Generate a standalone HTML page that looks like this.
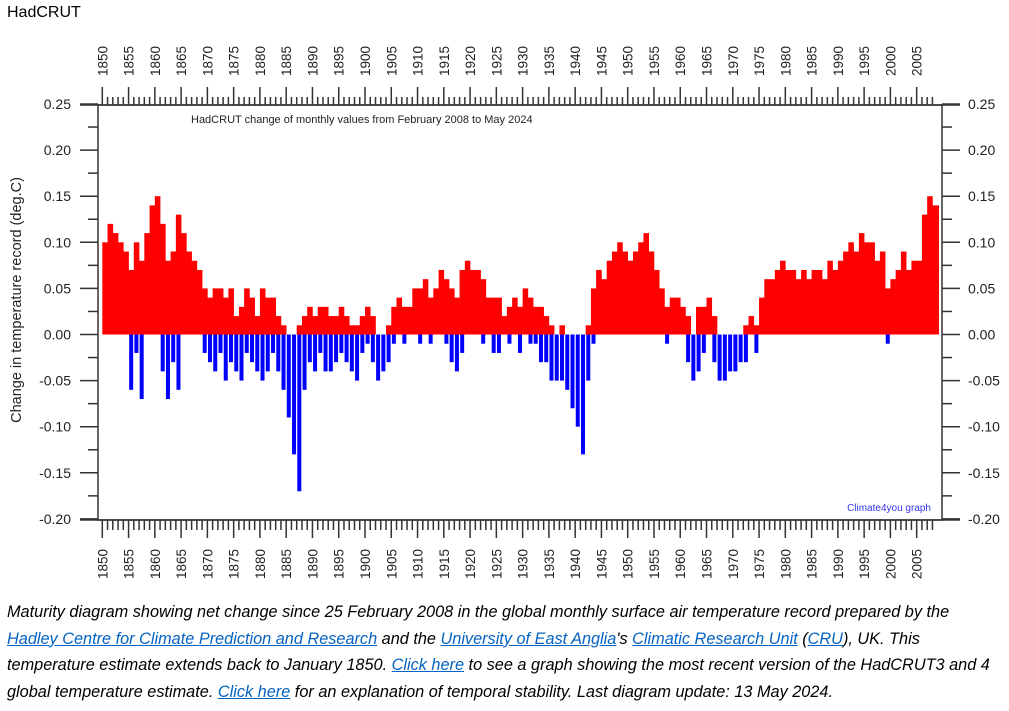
<!DOCTYPE html>
<html><head><meta charset="utf-8"><style>
body{margin:0;background:#fff;width:1009px;height:711px;overflow:hidden;font-family:"Liberation Sans",Arial,sans-serif}
#hdr{position:absolute;left:7px;top:4px;font-size:16px;color:#000}
#cap{position:absolute;left:7px;top:599px;width:1002px;font-style:italic;font-size:16.3px;line-height:26.5px;color:#000;white-space:nowrap}
#cap a{color:#0563c1;text-decoration:underline}
svg{position:absolute;left:0;top:0}
</style></head><body>
<div id="hdr">HadCRUT</div>
<svg id="chart" width="1009" height="600"></svg>
<div id="cap">Maturity diagram showing net change since 25 February 2008 in the global monthly surface air temperature record prepared by the<br><a>Hadley Centre for Climate Prediction and Research</a> and the <a>University of East Anglia</a>'s <a>Climatic Research Unit</a> (<a>CRU</a>), UK. This<br>temperature estimate extends back to January 1850. <a>Click here</a> to see a graph showing the most recent version of the HadCRUT3 and 4<br>global temperature estimate. <a>Click here</a> for an explanation of temporal stability. Last diagram update: 13 May 2024.</div>
<script>
const startYear = 1850;
const posValues = [0.10,0.12,0.11,0.10,0.09,0.07,0.10,0.08,0.11,0.14,0.15,0.12,0.08,0.09,0.13,0.11,0.09,0.08,0.07,0.05,
0.04,0.05,0.05,0.04,0.05,0.02,0.03,0.05,0.04,0.02,0.05,0.04,0.04,0.02,0.01,0.00,0.00,0.01,0.02,0.03,
0.02,0.03,0.03,0.02,0.02,0.03,0.02,0.01,0.01,0.02,0.03,0.02,0.00,0.00,0.01,0.03,0.04,0.03,0.03,0.05,
0.05,0.06,0.04,0.05,0.07,0.06,0.05,0.04,0.07,0.08,0.07,0.07,0.06,0.04,0.04,0.04,0.02,0.03,0.04,0.03,
0.05,0.04,0.03,0.03,0.02,0.01,0.00,0.01,0.00,0.00,0.00,0.00,0.01,0.05,0.07,0.06,0.08,0.09,0.10,0.09,
0.08,0.09,0.10,0.11,0.09,0.07,0.05,0.03,0.04,0.04,0.03,0.02,0.00,0.03,0.03,0.04,0.02,0.00,0.00,0.00,
0.00,0.00,0.01,0.02,0.01,0.04,0.06,0.06,0.07,0.08,0.07,0.07,0.06,0.07,0.06,0.07,0.07,0.06,0.08,0.07,
0.08,0.09,0.10,0.09,0.11,0.10,0.10,0.08,0.09,0.05,0.06,0.07,0.09,0.07,0.08,0.08,0.13,0.15,0.14];
const negValues = [0,0,0,0,0,-0.06,-0.02,-0.07,0,0,0,-0.04,-0.07,-0.03,-0.06,0,0,0,0,-0.02,
-0.03,-0.04,-0.02,-0.05,-0.03,-0.04,-0.05,-0.02,-0.03,-0.04,-0.05,-0.04,-0.02,-0.04,-0.06,-0.09,-0.13,-0.17,-0.06,-0.03,
-0.04,-0.02,-0.04,-0.04,-0.03,-0.02,-0.03,-0.04,-0.05,-0.02,-0.01,-0.03,-0.05,-0.04,-0.03,-0.01,0,-0.01,0,0,
-0.01,0,-0.01,0,0,-0.01,-0.03,-0.04,-0.02,0,0,0,-0.01,0,-0.02,-0.02,0,-0.01,0,-0.02,
0,-0.01,-0.01,-0.03,-0.03,-0.05,-0.05,-0.05,-0.06,-0.08,-0.10,-0.13,-0.05,-0.01,0,0,0,0,0,0,
0,0,0,0,0,0,0,-0.01,0,0,0,-0.03,-0.05,-0.04,-0.02,0,-0.03,-0.05,-0.05,-0.04,
-0.04,-0.03,-0.03,0,-0.02,0,0,0,0,0,0,0,0,0,0,0,0,0,0,0,
0,0,0,0,0,0,0,0,0,-0.01,0,0,0,0,0,0,0,0,0];
const yTicks = [0.25,0.20,0.15,0.10,0.05,0.00,-0.05,-0.10,-0.15,-0.20];
const yearLabels = [1850,1855,1860,1865,1870,1875,1880,1885,1890,1895,1900,1905,1910,1915,1920,1925,1930,1935,1940,1945,1950,1955,1960,1965,1970,1975,1980,1985,1990,1995,2000,2005];

const NS='http://www.w3.org/2000/svg';
const svg=document.getElementById('chart');
const L=98,R=942,T=105,B=520;
const x=yr=>102.3+(yr-1850)*5.254;
const y=v=>334.5-v*922;
function mk(tag,attrs,parent){const e=document.createElementNS(NS,tag);for(const k in attrs)e.setAttribute(k,attrs[k]);(parent||svg).appendChild(e);return e;}

const bars=mk('g',{});


posValues.forEach((v,i)=>{
  const yr=startYear+i, w=(i===posValues.length-1)?1.2:1;
  if(v>0){const r=mk('rect',{x:x(yr),y:y(v),width:5.254*w+0.3,height:y(0)-y(v),fill:'#ff0000'},bars);
    
    }
});
negValues.forEach((v,i)=>{
  const yr=startYear+i;
  if(v<0){const r=mk('rect',{x:x(yr)+0.6,y:y(0),width:4,height:y(v)-y(0),fill:'#0000ff'},bars);
    
    }
});

const ax=mk('g',{stroke:'#333','stroke-width':1.5,fill:'none'});


mk('rect',{x:L,y:T,width:R-L,height:B-T},ax);
mk('line',{x1:80,y1:T,x2:960,y2:T},ax);
mk('line',{x1:80,y1:B,x2:960,y2:B},ax);
for(let yr=1850;yr<=2008;yr++){
  const major=yr%5===0;
  mk('line',{x1:x(yr),y1:T,x2:x(yr),y2:T-(major?18:8)},ax);
  mk('line',{x1:x(yr),y1:B,x2:x(yr),y2:B+(major?18:10)},ax);
}
for(let v=-0.175;v<0.25;v+=0.05){
  mk('line',{x1:88,y1:y(v),x2:L,y2:y(v)},ax);
  mk('line',{x1:R,y1:y(v),x2:952,y2:y(v)},ax);
}
yTicks.forEach(v=>{
  mk('line',{x1:80,y1:y(v),x2:L,y2:y(v)},ax);
  mk('line',{x1:R,y1:y(v),x2:960,y2:y(v)},ax);
  const s=v.toFixed(2);
  const t1=mk('text',{x:71,y:y(v)+5,'text-anchor':'end','font-size':14,fill:'#222'});t1.textContent=s;
  
  
  const t2=mk('text',{x:968,y:y(v)+5,'font-size':14,fill:'#222'});t2.textContent=s;
  
  
});
yearLabels.forEach(yr=>{
  const t1=mk('text',{transform:`translate(${x(yr)+5},76) rotate(-90)`,'font-size':13.5,fill:'#222'});t1.textContent=yr;
  
  
  const t2=mk('text',{transform:`translate(${x(yr)+5},579) rotate(-90)`,'font-size':13.5,fill:'#222'});t2.textContent=yr;
  
  
});
const yt=mk('text',{transform:'translate(21,300) rotate(-90)','text-anchor':'middle','font-size':14.5,fill:'#222'});
yt.textContent='Change in temperature record (deg.C)';


const ct=mk('text',{x:191,y:123,'font-size':11,fill:'#222'});
ct.textContent='HadCRUT change of monthly values from February 2008 to May 2024';


const cr=mk('text',{x:931,y:511,'text-anchor':'end','font-size':10,fill:'#3333ee'});
cr.textContent='Climate4you graph';


</script>
</body></html>
